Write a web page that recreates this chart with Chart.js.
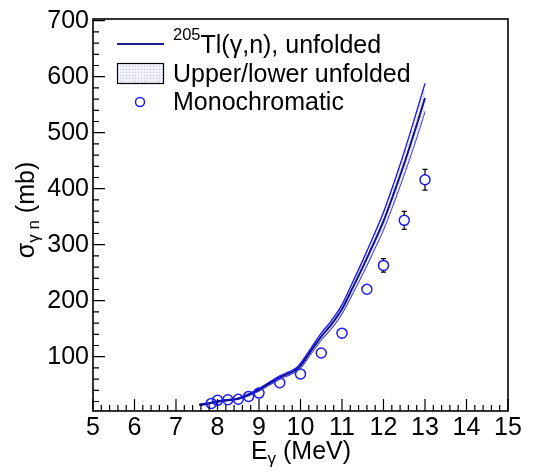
<!DOCTYPE html>
<html>
<head>
<meta charset="utf-8">
<script src="https://cdn.jsdelivr.net/npm/chart.js@4.4.0/dist/chart.umd.min.js"></script>
<style>
  html, body { margin: 0; padding: 0; background: #fff; }
  canvas { display: block; }
</style>
</head>
<body>
<canvas id="c" width="537" height="472"></canvas>
<script>
// --- data
const curveE        = [7.56, 7.75, 8.0, 8.25, 8.5, 8.75, 9.0, 9.25, 9.5, 9.75, 9.9, 10.0, 10.25, 10.5, 10.75, 11.0, 11.25, 11.5, 11.75, 12.0, 12.25, 12.5, 12.75, 13.0];
const unfolded      = [14, 16, 20, 22.5, 25, 32, 41, 52, 63, 71, 77, 84, 110, 136, 158, 185, 222, 260, 300, 342, 392, 445, 502, 562];
const unfoldedUpper = [15, 17, 21, 23.5, 26, 33.5, 43, 54.5, 66, 74, 80, 88, 115, 142, 165, 193, 232, 272, 314, 358, 410, 466, 526, 588];
const unfoldedLower = [13, 15, 19, 21.5, 24, 30.5, 39, 49.5, 60, 68, 74, 80, 105, 130, 151, 177, 212, 248, 287, 327, 375, 426, 480, 538];

const monoE     = [7.85, 8.0, 8.25, 8.5, 8.75, 9.0, 9.5, 10.0, 10.5, 11.0, 11.6, 12.0, 12.5, 13.0];
const monoSigma = [16.5, 22, 23, 24, 29, 35, 53.5, 69, 106.5, 142, 220.5, 263, 343.5, 416];
const monoErr   = [2, 2, 2, 2, 2, 2.5, 3, 3.5, 5, 6, 8.5, 12, 16, 18.5];

const xTicks = [5, 6, 7, 8, 9, 10, 11, 12, 13, 14, 15];
const yTicks = [100, 200, 300, 400, 500, 600, 700];

const X_MIN = 5, X_MAX = 15, Y_MIN = 3, Y_MAX = 703;
const FONT = '"Liberation Sans", Arial, Helvetica, sans-serif';

const pts = (xs, ys) => xs.map((v, i) => ({ x: v, y: ys[i] }));

// light dotted band fill, like the ROOT fill style
function bandPattern() {
  const p = document.createElement('canvas'); p.width = 3; p.height = 3;
  const g = p.getContext('2d');
  g.fillStyle = 'rgba(236,236,252,0.7)'; g.fillRect(0, 0, 3, 3);
  g.fillStyle = 'rgba(175,175,238,0.75)'; g.fillRect(0, 0, 1, 1);
  return g.createPattern(p, 'repeat');
}
const fillPat = bandPattern();

// --- frame + inward ticks
const frame = {
  id: 'frame',
  afterDraw(ch) {
    const { ctx, chartArea: a, scales: { x, y } } = ch;
    ctx.save();
    ctx.strokeStyle = '#000';
    ctx.lineWidth = 1.6;
    ctx.strokeRect(a.left, a.top, a.right - a.left, a.bottom - a.top);
    ctx.lineWidth = 1.2;
    ctx.beginPath();
    for (let i = 0; i <= 50; i++) {
      const v = X_MIN + i * 0.2;
      const px = x.getPixelForValue(v);
      const len = i % 5 === 0 ? 12 : 6;
      ctx.moveTo(px, a.bottom); ctx.lineTo(px, a.bottom - len);
    }
    for (let v = 20; v <= 700; v += 20) {
      const py = y.getPixelForValue(v);
      const len = v % 100 === 0 ? 12 : 6;
      ctx.moveTo(a.left, py); ctx.lineTo(a.left + len, py);
    }
    ctx.stroke();
    ctx.restore();
  }
};

// --- vertical error bars on the monochromatic points (gap inside the marker)
const errBars = {
  id: 'errBars',
  afterDatasetsDraw(ch) {
    const { ctx, scales: { x, y } } = ch;
    const r = 5;
    ctx.save();
    ctx.strokeStyle = '#000'; ctx.lineWidth = 1.2;
    ctx.beginPath();
    monoE.forEach((e, i) => {
      const px = x.getPixelForValue(e);
      const pc = y.getPixelForValue(monoSigma[i]);
      const pt = y.getPixelForValue(monoSigma[i] + monoErr[i]);
      const pb = y.getPixelForValue(monoSigma[i] - monoErr[i]);
      if (pc - pt <= r) return;
      ctx.moveTo(px, pt); ctx.lineTo(px, pc - r);
      ctx.moveTo(px, pc + r); ctx.lineTo(px, pb);
      ctx.moveTo(px - 2.5, pt); ctx.lineTo(px + 2.5, pt);
      ctx.moveTo(px - 2.5, pb); ctx.lineTo(px + 2.5, pb);
    });
    ctx.stroke();
    ctx.restore();
  }
};

// --- legend and axis titles (need sub/superscripts)
function runs(ctx, x, y, parts) {
  // parts: [text, size, dy]
  let cx = x;
  parts.forEach(([t, s, dy]) => {
    ctx.font = s + 'px ' + FONT;
    ctx.fillText(t, cx, y + dy);
    cx += ctx.measureText(t).width;
  });
  return cx - x;
}
function runsWidth(ctx, parts) {
  let w = 0;
  parts.forEach(([t, s]) => { ctx.font = s + 'px ' + FONT; w += ctx.measureText(t).width; });
  return w;
}

const texts = {
  id: 'texts',
  afterDraw(ch) {
    const ctx = ch.ctx;
    ctx.save();
    ctx.fillStyle = '#000';
    ctx.textBaseline = 'alphabetic';
    ctx.textAlign = 'left';

    // legend
    ctx.strokeStyle = '#1c1c8c'; ctx.lineWidth = 2;
    ctx.beginPath(); ctx.moveTo(117, 44); ctx.lineTo(164, 44); ctx.stroke();
    ctx.fillStyle = fillPat; ctx.fillRect(117, 63, 47, 20);
    ctx.strokeStyle = '#000'; ctx.lineWidth = 1.2; ctx.strokeRect(117.5, 63.5, 46, 20);
    ctx.strokeStyle = '#1a1aff'; ctx.lineWidth = 1.5;
    ctx.beginPath(); ctx.arc(140, 102, 4.5, 0, Math.PI * 2); ctx.stroke();

    ctx.fillStyle = '#000';
    runs(ctx, 173, 53, [['205', 16.5, -13], ['Tl(γ,n), unfolded', 25, 0]]);
    runs(ctx, 173, 81.5, [['Upper/lower unfolded', 25, 0]]);
    runs(ctx, 173, 110, [['Monochromatic', 25, 0]]);

    // x title
    const xp = [['E', 25, 0], ['γ', 17, 5], [' (MeV)', 25, 0]];
    runs(ctx, 301 - runsWidth(ctx, xp) / 2, 459, xp);

    // y title, rotated
    const yp = [['σ', 25, 0], ['γ n', 17, 5], [' (mb)', 25, 0]];
    ctx.translate(34, 210);
    ctx.rotate(-Math.PI / 2);
    runs(ctx, -runsWidth(ctx, yp) / 2, 0, yp);
    ctx.restore();
  }
};

new Chart(document.getElementById('c'), {
  type: 'line',
  data: {
    datasets: [
      { order: 3, data: pts(curveE, unfoldedLower), borderColor: '#1414ff', borderWidth: 1.3, pointRadius: 0, fill: false, cubicInterpolationMode: 'monotone' },
      { order: 2, data: pts(curveE, unfoldedUpper), borderColor: '#1414ff', borderWidth: 1.3, pointRadius: 0, fill: '-1', backgroundColor: fillPat, cubicInterpolationMode: 'monotone' },
      { order: 1, data: pts(curveE, unfolded), borderColor: '#12128a', borderWidth: 2, pointRadius: 0, fill: false, cubicInterpolationMode: 'monotone' },
      { order: 0, data: pts(monoE, monoSigma), showLine: false, pointStyle: 'circle', pointRadius: 5, borderColor: '#1a1aff', borderWidth: 1.5, backgroundColor: 'rgba(0,0,0,0)' }
    ]
  },
  options: {
    responsive: false,
    animation: false,
    devicePixelRatio: 1,
    layout: { padding: { left: 0, right: 29, top: 12, bottom: 0 } },
    plugins: { legend: { display: false }, tooltip: { enabled: false } },
    scales: {
      x: {
        type: 'linear', min: X_MIN, max: X_MAX,
        grid: { display: false, drawTicks: false },
        border: { display: false },
        afterBuildTicks: s => { s.ticks = xTicks.map(v => ({ value: v })); },
        afterFit: s => { s.height = 61; },
        ticks: { color: '#000', padding: 2, maxRotation: 0, font: { family: FONT, size: 25 } }
      },
      y: {
        type: 'linear', min: Y_MIN, max: Y_MAX,
        grid: { display: false, drawTicks: false },
        border: { display: false },
        afterBuildTicks: s => { s.ticks = yTicks.map(v => ({ value: v })); },
        afterFit: s => { s.width = 93; },
        ticks: { color: '#000', padding: 4, font: { family: FONT, size: 25 } }
      }
    }
  },
  plugins: [frame, errBars, texts]
});
</script>
</body>
</html>
